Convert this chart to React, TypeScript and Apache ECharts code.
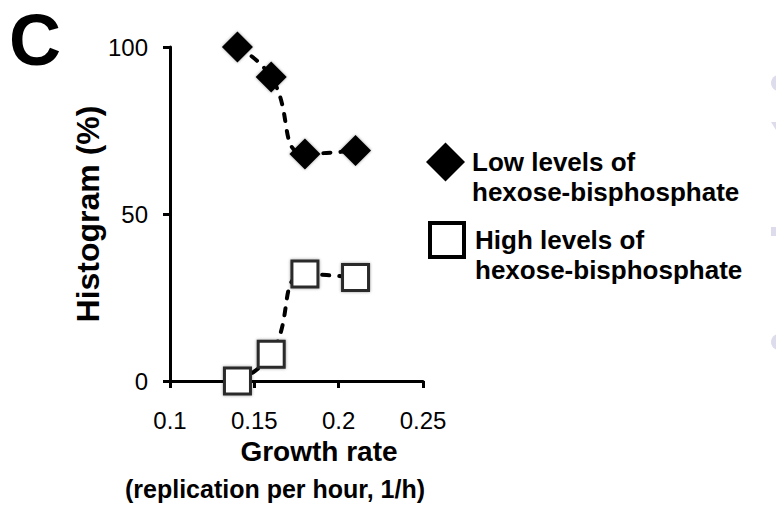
import React, { useEffect, useRef } from "react";
import * as echarts from "echarts";

const growthRate = [0.14, 0.16, 0.18, 0.21];
const lowLevels = [100, 91, 68, 69];
const highLevels = [0, 8, 32, 31];
const seriesNames = ["Low levels of\nhexose-bisphosphate", "High levels of\nhexose-bisphosphate"];
const xTicks = { min: 0.1, max: 0.25, interval: 0.05 };
const yTicks = { min: 0, max: 100, interval: 50 };

const FONT = "'Liberation Sans', Arial, Helvetica, sans-serif";

export default function App() {
  const ref = useRef<HTMLDivElement>(null);
  useEffect(() => {
    if (!ref.current) return;
    const chart = echarts.init(ref.current, null, { renderer: "svg" });
    const lowData = growthRate.map((x, i) => [x, lowLevels[i]]);
    const highData = growthRate.map((x, i) => [x, highLevels[i]]);
    const dashed = { color: "#000", width: 4, type: [7, 10] as any, cap: "round" as any };
    const lav = "#dcdcec";
    const legendText = { fontSize: 26, fontWeight: "bold" as any, color: "#000", lineHeight: 30, fontFamily: FONT };
    chart.setOption({
      animation: false,
      backgroundColor: "#fff",
      textStyle: { fontFamily: FONT },
      grid: { left: 170, top: 47, width: 253, height: 337, containLabel: false },
      legend: [
        {
          left: 426,
          top: 117,
          padding: 0,
          orient: "vertical",
          itemWidth: 39,
          itemHeight: 39,
          selectedMode: false,
          formatter: (n: string) => " \n" + n,
          data: [{ name: seriesNames[0], icon: "diamond", itemStyle: { color: "#000" } }],
          textStyle: { ...legendText, padding: [0, 0, 0, 2] },
        },
        {
          left: 428,
          top: 195,
          padding: 0,
          orient: "vertical",
          itemWidth: 34,
          itemHeight: 34,
          itemGap: 0,
          selectedMode: false,
          formatter: (n: string) => " \n" + n,
          data: [{ name: seriesNames[1], icon: "rect", itemStyle: { color: "#fff", borderColor: "#000", borderWidth: 4 } }],
          textStyle: { ...legendText, padding: [0, 0, 0, 6] },
        },
      ],
      xAxis: {
        type: "value",
        min: xTicks.min,
        max: xTicks.max,
        interval: xTicks.interval,
        splitLine: { show: false },
        axisLine: { show: true, onZero: false, lineStyle: { color: "#000", width: 3 } },
        axisTick: { show: true, inside: false, length: 7, lineStyle: { color: "#000", width: 3 } },
        axisLabel: {
          fontSize: 24,
          color: "#000",
          margin: 27,
          fontFamily: FONT,
          formatter: (v: number) => String(Math.round(v * 100) / 100),
        },
        name: "{g|Growth rate}\n{r|(replication per hour, 1/h)}",
        nameLocation: "middle",
        nameGap: 52,
        nameTextStyle: {
          rich: {
            g: { fontSize: 28, fontWeight: "bold", color: "#000", fontFamily: FONT, lineHeight: 37, padding: [0, 0, 0, 45] },
            r: { fontSize: 25, fontWeight: "bold", color: "#000", fontFamily: FONT, lineHeight: 37, padding: [0, 43, 0, 0] },
          },
        },
      },
      yAxis: {
        type: "value",
        min: yTicks.min,
        max: yTicks.max,
        interval: yTicks.interval,
        splitLine: { show: false },
        axisLine: { show: true, onZero: false, lineStyle: { color: "#000", width: 3 } },
        axisTick: { show: true, inside: false, length: 7, lineStyle: { color: "#000", width: 3 } },
        axisLabel: { fontSize: 24, color: "#000", margin: 22, fontFamily: FONT },
        name: "Histogram (%)",
        nameLocation: "middle",
        nameGap: 46,
        nameTextStyle: { fontSize: 32, fontWeight: "bold", color: "#000", fontFamily: FONT },
      },
      series: [
        {
          type: "line",
          name: seriesNames[0],
          data: lowData,
          smooth: 0.5,
          symbol: "diamond",
          symbolSize: 31,
          itemStyle: { color: "#000", shadowBlur: 3, shadowColor: "rgba(0,0,0,0.4)" },
          lineStyle: dashed,
          z: 3,
        },
        {
          type: "line",
          name: seriesNames[1],
          data: highData,
          smooth: 0.5,
          symbol: "rect",
          symbolSize: 26,
          itemStyle: { color: "#fff", borderColor: "#2a2a2a", borderWidth: 3, shadowBlur: 3, shadowColor: "rgba(0,0,0,0.4)" },
          lineStyle: dashed,
          z: 2,
        },
      ],
      graphic: [
        {
          type: "text",
          x: 9,
          y: 40,
          style: { text: "C", font: `bold 72px ${FONT}`, fill: "#000", verticalAlign: "middle", align: "left" },
        },
        { type: "circle", shape: { cx: 779, cy: 83, r: 8 }, style: { fill: lav } },
        { type: "polygon", shape: { points: [[771, 122], [776, 122], [776, 130]] }, style: { fill: lav } },
        { type: "rect", shape: { x: 771, y: 227, width: 6, height: 9 }, style: { fill: lav } },
        { type: "circle", shape: { cx: 779, cy: 342, r: 8 }, style: { fill: lav } },
      ],
    });
    return () => chart.dispose();
  }, []);
  return (
    <div
      ref={ref}
      style={{ position: "fixed", left: 0, top: 0, width: 776, height: 506, background: "#fff" }}
    />
  );
}
